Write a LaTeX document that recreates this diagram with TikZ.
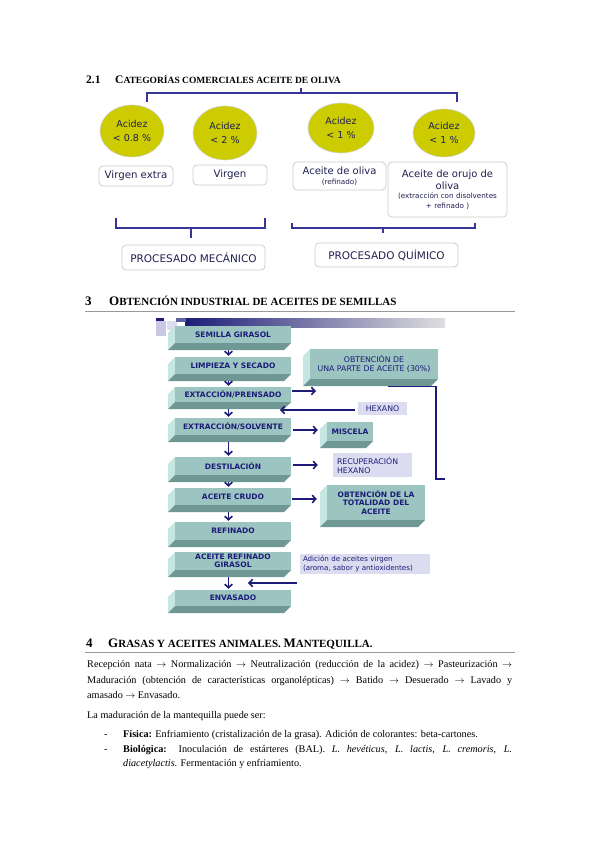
\documentclass[tikz,border=0pt]{standalone}
\usepackage{fontspec}
\setmainfont{Liberation Serif}
\newfontfamily\comic{DejaVu Sans}
\usetikzlibrary{arrows.meta,shapes.geometric}
\definecolor{navyt}{HTML}{1C1C78}
\definecolor{inkt}{HTML}{202050}
\definecolor{brkc}{HTML}{35359A}
\definecolor{olivey}{HTML}{CCCC00}
\definecolor{tealf}{HTML}{9CC4C0}
\definecolor{teall}{HTML}{C6E6E2}
\definecolor{tealb}{HTML}{6F9894}
\definecolor{lav}{HTML}{DCDCF0}
\definecolor{lav2}{HTML}{C8C8E4}
\definecolor{rulegray}{HTML}{9A9A9A}
\newcommand{\tbox}[7][]{%
  \fill[teall] (#3+7,#4) -- (#3,#4+7) -- (#3,#6) -- (#3+7,#6-7) -- cycle;
  \fill[tealb] (#3+7,#6-7) -- (#5,#6-7) -- (#5-7,#6) -- (#3,#6) -- cycle;
  \node[tface,#1, minimum width={(#5-#3-7)*1pt}, minimum height={(#6-#4-7)*1pt}] (#2) at ({(#3+7+#5)/2},{(#4+#6-7)/2}) {#7};
}
\newcommand{\ra}{$\rightarrow$}
\begin{document}
\begin{tikzpicture}[x=1pt,y=-1pt,
 brk/.style={draw=brkc, line width=1.4pt},
 ell/.style={ellipse, fill=olivey, draw=gray!35, line width=0.6pt, inner sep=0pt, align=center, font=\comic\fontsize{9.5}{14}\selectfont, text=inkt},
 rbox/.style={draw=gray!40, line width=0.8pt, rounded corners=4pt, fill=white, align=center, inner sep=1pt, text=inkt},
 tface/.style={fill=tealf, inner sep=0pt, align=center, text=navyt, font=\comic\bfseries\fontsize{7.5}{8.5}\selectfont},
 lbox/.style={fill=lav, inner sep=0pt, text=navyt, font=\comic\fontsize{7.8}{9}\selectfont},
 arr/.style={draw=navyt, line width=1.6pt, -{Straight Barb[length=3.5pt,width=7.5pt]}},
 plain/.style={draw=navyt, line width=1.2pt},
 body/.style={inner sep=0pt, anchor=base west, font=\fontsize{10.2}{14}\selectfont},
 head/.style={inner sep=0pt, anchor=base west, font=\bfseries},
 hrule/.style={draw=rulegray, line width=0.8pt}]
\fill[white] (0,0) rectangle (599,848);
\path[use as bounding box] (0,0) rectangle (599,848);

% ---------- 2.1 ----------
\node[head] (h21n) at (86,84) {\fontsize{11.5}{13}\selectfont 2.1};
\node[head] (h21t) at (115,84) {\fontsize{11.5}{13}\selectfont C\fontsize{9.5}{11}\selectfont ATEGORÍAS COMERCIALES ACEITE DE OLIVA};

\draw[brk] (147,102) -- (147,93) -- (457,93) -- (457,102);
\draw[brk] (301,93) -- (301,88);

\node[ell, minimum width=64pt, minimum height=52pt] (e1) at (132,131) {Acidez\\< 0.8 \%};
\node[ell, minimum width=64pt, minimum height=54pt] (e2) at (225,133) {Acidez\\< 2 \%};
\node[ell, minimum width=66pt, minimum height=50pt] (e3) at (341,128) {Acidez\\< 1 \%};
\node[ell, minimum width=62pt, minimum height=48pt] (e4) at (444,133) {Acidez\\< 1 \%};

\node[rbox, minimum width=74pt, minimum height=20pt, font=\comic\fontsize{10.2}{11}\selectfont] (b1) at (136,176) {Virgen extra};
\node[rbox, minimum width=74pt, minimum height=20pt, font=\comic\fontsize{10.2}{11}\selectfont] (b2) at (230,175) {Virgen};
\node[rbox, minimum width=93pt, minimum height=28pt, font=\comic\fontsize{10}{10.5}\selectfont] (b3) at (339.5,176) {Aceite de oliva\\{\fontsize{7.2}{8}\selectfont (refinado)}};
\node[rbox, minimum width=119pt, minimum height=55pt, font=\comic\fontsize{10}{12}\selectfont] (b4) at (447.5,189.5) {Aceite de orujo de\\oliva\\[-2.5pt]{\fontsize{7.2}{8}\selectfont (extracción con disolventes}\\[-2.5pt]{\fontsize{7.2}{8}\selectfont + refinado )}};

\draw[brk] (116,218) -- (116,228) -- (265,228) -- (265,218);
\draw[brk] (191,228) -- (191,238);
\draw[brk] (292,223) -- (292,228) -- (475,228) -- (475,223);
\draw[brk] (383,228) -- (383,233);

\node[rbox, minimum width=143pt, minimum height=25pt, font=\comic\fontsize{10.5}{11}\selectfont] (pm) at (193.5,257.5) {PROCESADO MECÁNICO};
\node[rbox, minimum width=143pt, minimum height=24pt, font=\comic\fontsize{10.5}{11}\selectfont] (pq) at (386.5,255) {PROCESADO QUÍMICO};

% ---------- 3 ----------
\node[head] (h3n) at (85,305) {\fontsize{13}{15}\selectfont 3};
\node[head] (h3t) at (109,305) {\fontsize{13}{15}\selectfont O\fontsize{11}{12}\selectfont BTENCIÓN INDUSTRIAL DE ACEITES DE SEMILLAS};
\draw[hrule] (85,311) -- (515,311);

% banner
\shade[left color=navyt, right color=gray!25] (185,318) rectangle (445,327);
\fill[lav2] (156,321) rectangle (166,336);
\fill[lav] (167,321) rectangle (177,330);
\fill[navyt] (156,318) rectangle (164,321);
\fill[navyt!70] (176,318) rectangle (186,322);

\tbox{sem}{168}{326}{291}{350}{SEMILLA GIRASOL}
\tbox{limp}{168}{357}{291}{381}{LIMPIEZA Y SECADO}
\tbox{prens}{168}{387}{291}{409}{EXTACCIÓN/PRENSADO}
\tbox{solv}{168}{418}{291}{442}{EXTRACCIÓN/SOLVENTE}
\tbox{dest}{168}{457}{291}{482}{DESTILACIÓN}
\tbox{crudo}{168}{488}{291}{512}{ACEITE CRUDO}
\tbox{refi}{168}{522}{291}{547}{REFINADO}
\tbox{acref}{168}{552}{291}{577}{ACEITE REFINADO\\GIRASOL}
\tbox{env}{168}{590}{291}{613}{ENVASADO}

\tbox[font=\comic\fontsize{7.8}{9.5}\selectfont]{ob30}{303}{349}{438}{386}{OBTENCIÓN DE\\UNA PARTE DE ACEITE (30\%)}
\tbox{misc}{320}{422}{373}{448}{MISCELA}
\tbox{total}{320}{485}{425}{527}{OBTENCIÓN DE LA\\TOTALIDAD DEL\\ACEITE}

\node[lbox, minimum width=49pt, minimum height=13pt] (hex) at (382.5,408.5) {HEXANO};
\node[lbox, inner xsep=4pt, text width=71pt, minimum height=24pt, align=left] (recup) at (372.5,465) {RECUPERACIÓN\\HEXANO};
\node[lbox, inner xsep=3pt, inner ysep=2pt, text width=124pt, align=left, font=\comic\fontsize{7.1}{9.5}\selectfont] (adic) at (365,564) {\makebox[124pt][s]{Adición de aceites virgen}\\(aroma, sabor y antioxidentes)};

% down arrows
\foreach \a/\b in {sem/limp, limp/prens, prens/solv, solv/dest, dest/crudo, crudo/refi, acref/env}
  \draw[arr] ([xshift=-4.5pt,yshift=-7pt]\a.south) -- ([xshift=-4.5pt,yshift=1pt]\b.north);

% side arrows
\coordinate (p30) at (316,391);
\draw[arr] ([xshift=1pt,yshift=3.5pt]prens.east) -- (p30);
\draw[arr] ([xshift=2pt,yshift=-3.5pt]solv.east) -- ([xshift=-9pt,yshift=-3.5pt]solv.east -| misc.west);
\draw[arr] ([xshift=2pt,yshift=1pt]dest.east) -- ([xshift=-15pt,yshift=1pt]dest.east -| recup.west);
\draw[arr] ([xshift=1pt,yshift=-2.5pt]crudo.east) -- ([xshift=-10pt,yshift=-2.5pt]crudo.east -| total.west);
\coordinate (hexend) at (280,410);
\draw[arr] ([xshift=-3pt,yshift=-1.5pt]hex.west) -- (hexend);
\coordinate (adst) at (297,583);
\coordinate (aden) at (248,583);
\draw[arr] (adst) -- (aden);
\coordinate (obc) at (436,479);
\draw[plain] ([xshift=-50pt,yshift=-7.5pt]ob30.south east) -| (obc) -- ++(9,0);

% ---------- 4 ----------
\node[head] (h4n) at (86,647) {\fontsize{13}{15}\selectfont 4};
\node[head] (h4t) at (108,647) {\fontsize{13}{15}\selectfont G\fontsize{11}{12}\selectfont RASAS Y ACEITES ANIMALES. \fontsize{13}{15}\selectfont M\fontsize{11}{12}\selectfont ANTEQUILLA.};
\draw[hrule] (85,652) -- (515,652);

\node[body] (l1) at (87,667) {\makebox[425pt][s]{Recepción nata \ra{} Normalización \ra{} Neutralización (reducción de la acidez) \ra{} Pasteurización \ra}};
\node[body] (l2) at (87,683) {\makebox[425pt][s]{Maduración (obtención de características organolépticas) \ra{} Batido \ra{} Desuerado \ra{} Lavado y}};
\node[body] (l3) at (87,698) {amasado \ra{} Envasado.};
\node[body] (l4) at (87,718) {La maduración de la mantequilla puede ser:};
\node[body] (d1) at (104,737) {-};
\node[body] (i1) at (123,737) {\textbf{Física:} Enfriamiento (cristalización de la grasa). Adición de colorantes: beta-cartones.};
\node[body] (d2) at (104,752) {-};
\node[body] (i2) at (123,752) {\makebox[389pt][s]{\textbf{Biológica:} Inoculación de estárteres (BAL). \textit{L. hevéticus}, \textit{L. lactis}, \textit{L. cremoris}, \textit{L.}}};
\node[body] (i3) at (123,766) {\textit{diacetylactis}. Fermentación y enfriamiento.};
\end{tikzpicture}
\end{document}
